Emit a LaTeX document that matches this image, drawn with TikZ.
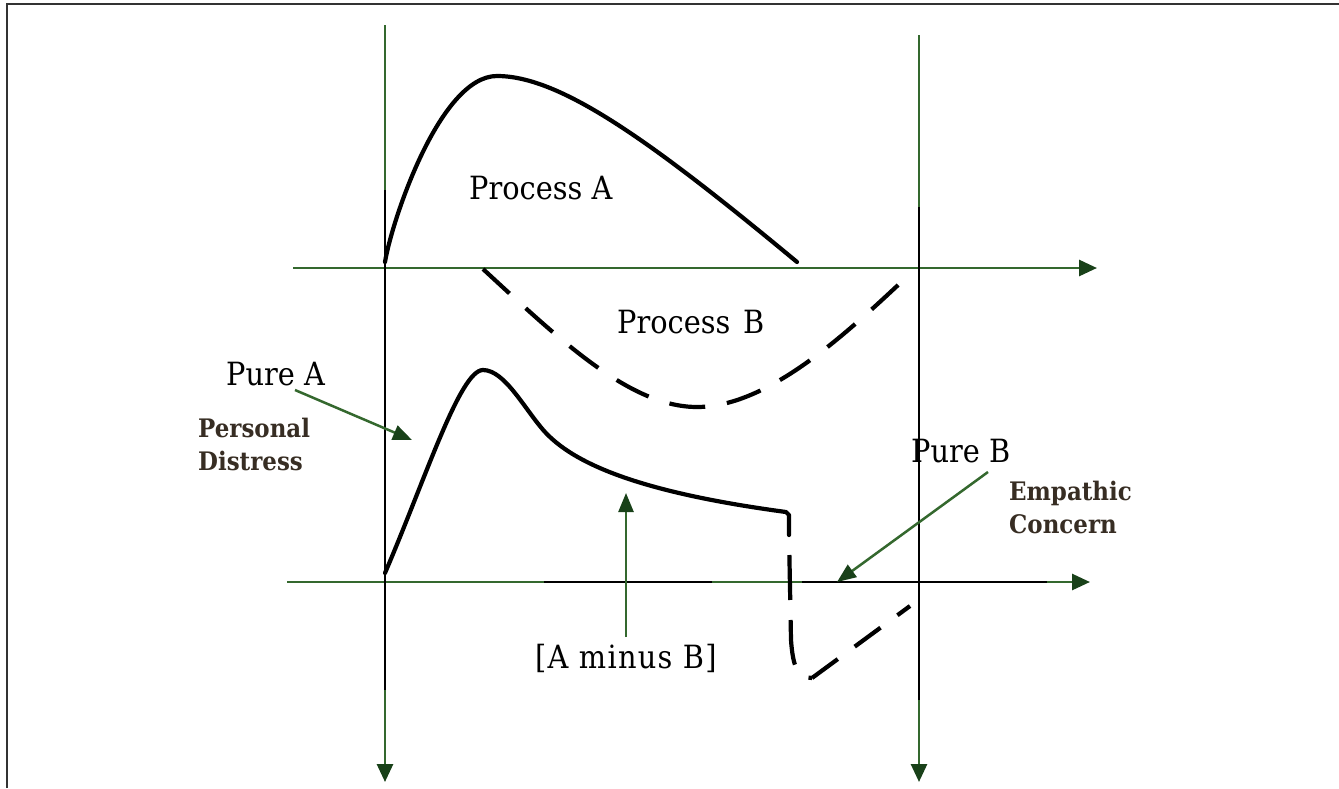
\documentclass[tikz,border=0pt]{standalone}
\usepackage{fontspec}
\newfontfamily\slab[FakeStretch=0.9]{DejaVu Serif}
\usetikzlibrary{arrows.meta}
\definecolor{axgreen}{RGB}{52,104,46}
\definecolor{headgreen}{RGB}{25,65,25}
\definecolor{brownish}{RGB}{55,45,35}
\begin{document}
\begin{tikzpicture}[x=1pt,y=-1pt,
  axisline/.style={draw=axgreen, line width=2.8pt},
  axisarrow/.style={axisline, -{Triangle[length=18pt,width=16pt,fill=headgreen,color=headgreen]}},
  blackover/.style={draw=black, line width=2.8pt},
  pointer/.style={draw=axgreen, line width=2.5pt, -{Triangle[length=19pt,width=15pt,fill=headgreen,color=headgreen]}},
  curve/.style={draw=black, line width=4.2pt, line cap=round, line join=round},
  dcurve/.style={curve, line cap=butt, dash pattern=on 36pt off 22pt},
  lbl/.style={inner sep=0pt, anchor=base west, font=\slab\fontsize{32}{36}\selectfont},
  note/.style={inner sep=0pt, anchor=north west, align=left, text=brownish, font=\slab\bfseries\fontsize{25.5}{33}\selectfont}]
\useasboundingbox (0,0) rectangle (1339,788);
\fill[white] (0,0) rectangle (1339,788);
% frame
\draw[line width=2.2pt, draw=black!80] (7,788) -- (7,4) -- (1339,4);
% axes coordinates
\coordinate (L1) at (385,25);  \coordinate (L2) at (385,782);
\coordinate (R1) at (919,35);  \coordinate (R2) at (919,782);
\coordinate (T1) at (293,268); \coordinate (T2) at (1097,268);
\coordinate (B1) at (287,582); \coordinate (B2) at (1090,582);
\draw[axisarrow] (L1) -- (L2);
\draw[axisarrow] (R1) -- (R2);
\draw[axisarrow] (T1) -- (T2);
\draw[axisarrow] (B1) -- (B2);
% black overlaid stretches of the axes
\coordinate (Lb1) at (385,190); \coordinate (Lb2) at (385,690);
\coordinate (Rb1) at (919,207); \coordinate (Rb2) at (919,700);
\coordinate (Bb1) at (544,582); \coordinate (Bb2) at (712,582);
\coordinate (Bb3) at (802,582); \coordinate (Bb4) at (1047,582);
\draw[blackover] (Lb1) -- (Lb2);
\draw[blackover] (Rb1) -- (Rb2);
\draw[blackover] (Bb1) -- (Bb2);
\draw[blackover] (Bb3) -- (Bb4);
% Process A
\coordinate (pa0) at (385,262);
\coordinate (pa1) at (497,76);
\coordinate (pa2) at (797,262);
\draw[curve] (pa0) .. controls (392,220) and (440,76) .. (pa1)
  .. controls (560,76) and (650,140) .. (pa2);
% Process B (dashed)
\coordinate (pb0) at (483,269);
\coordinate (pb1) at (697,407);
\coordinate (pb2) at (912,272);
\draw[dcurve] (pb0) .. controls (560,340) and (630,407) .. (pb1)
  .. controls (770,407) and (850,330) .. (pb2);
% A minus B (solid part)
\coordinate (c0) at (385,573);
\coordinate (c1) at (483,370);
\coordinate (c2) at (545,432);
\coordinate (c3) at (786,512);
\coordinate (c4) at (789,515);
\coordinate (c5) at (789,535);
\draw[curve] (c0) .. controls (425,480) and (460,370) .. (c1)
  .. controls (505,370) and (525,410) .. (c2)
  .. controls (580,470) and (660,495) .. (c3) -- (c4) -- (c5);
% A minus B (dashed part)
\coordinate (d1) at (791,640);
\coordinate (d2) at (812,678);
\coordinate (d3) at (910,606);
\draw[curve, line cap=butt, dash pattern=on 45pt off 20pt, dash phase=45pt]
  (c5) -- (d1) .. controls (793,668) and (798,678) .. (d2);
\draw[curve, line cap=butt, dash pattern=on 32pt off 21pt] (d2) -- (d3);
% labels
\node[lbl] (procA) at (469,199) {Process A};
\node[lbl] (procB) at (617,333) {Process\hspace{0.4em}B};
\node[lbl] (pureA) at (226,385) {Pure A};
\node[lbl] (pureB) at (911,462) {Pure B};
\node[lbl] (amb) at (535,668) {\addfontfeature{LetterSpace=4}[A minus B]};
\node[note] (pd) at (198,418) {Personal\\Distress};
\node[note] (ec) at (1009,481) {Empathic\\Concern};
% pointers
\coordinate (paS) at (295,390); \coordinate (paT) at (412,440);
\coordinate (pbS) at (988,472); \coordinate (pbT) at (837,582);
\coordinate (amS) at (626,637); \coordinate (amT) at (626,493);
\draw[pointer] (paS) -- (paT);
\draw[pointer] (pbS) -- (pbT);
\draw[pointer] (amS) -- (amT);
\end{tikzpicture}
\end{document}
